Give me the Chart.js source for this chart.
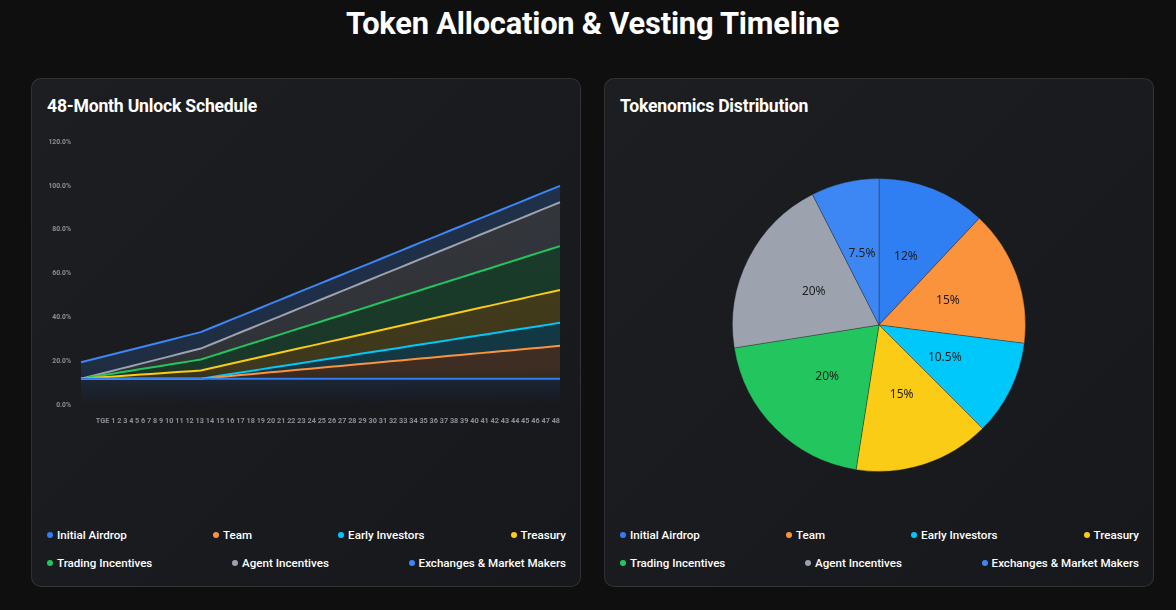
<!DOCTYPE html>
<html>
<head>
<meta charset="utf-8">
<script src="https://cdn.jsdelivr.net/npm/chart.js@4.4.1/dist/chart.umd.min.js"></script>
<style>
  html, body { margin:0; padding:0; background:#0f0f0f; width:1176px; height:610px; overflow:hidden; font-family: Roboto, 'Liberation Sans', sans-serif; }
  h1 { position:absolute; left:31px; width:1123px; top:6px; margin:0; text-align:center; color:#fff; font-size:30.8px; font-weight:700; line-height:36px; letter-spacing:-0.2px; }
  .card { position:absolute; top:78px; width:550px; height:509px; box-sizing:border-box; border:1px solid rgba(255,255,255,0.10); border-radius:10px; background:linear-gradient(135deg,#1c1e22 0%,#16181b 100%); }
  .card h2 { position:absolute; left:15px; top:16px; margin:0; color:#fff; font-size:17.6px; font-weight:700; line-height:22px; letter-spacing:-0.2px; }
  .chartbox { position:absolute; left:15px; top:51px; width:518px; }
  .legend { position:absolute; left:15px; top:442px; width:519px; display:flex; flex-wrap:wrap; justify-content:space-between; column-gap:40px; }
  .legend .item { display:flex; align-items:center; height:28px; color:#fff; font-size:11.6px; font-weight:500; white-space:nowrap; }
  .legend .dot { width:6px; height:6px; border-radius:50%; margin-right:4px; margin-left:0; }
</style>
</head>
<body>
<h1>Token Allocation &amp; Vesting Timeline</h1>
<div class="card" style="left:31px;">
  <h2>48-Month Unlock Schedule</h2>
  <div class="chartbox" style="height:296px;"><canvas id="lineChart"></canvas></div>
  <div class="legend" id="legend1"></div>
</div>
<div class="card" style="left:604px;">
  <h2>Tokenomics Distribution</h2>
  <div class="chartbox" style="height:390px;"><canvas id="pieChart"></canvas></div>
  <div class="legend" id="legend2"></div>
</div>
<script>
// ---- data ----
const months = ['TGE','1','2','3','4','5','6','7','8','9','10','11','12','13','14','15','16','17','18','19','20','21','22','23','24','25','26','27','28','29','30','31','32','33','34','35','36','37','38','39','40','41','42','43','44','45','46','47','48'];
const seriesNames = ['Initial Airdrop','Team','Early Investors','Treasury','Trading Incentives','Agent Incentives','Exchanges & Market Makers'];
const seriesColors = ['#2f7ff2','#fb923c','#00c8fa','#facc15','#22c55e','#9ca3af','#3d87f5'];
const allocation = [12, 15, 10.5, 15, 20, 20, 7.5];

const initialAirdrop = [12,12,12,12,12,12,12,12,12,12,12,12,12,12,12,12,12,12,12,12,12,12,12,12,12,12,12,12,12,12,12,12,12,12,12,12,12,12,12,12,12,12,12,12,12,12,12,12,12];
const team = [0,0,0,0,0,0,0,0,0,0,0,0,0,0.42,0.83,1.25,1.67,2.08,2.5,2.92,3.33,3.75,4.17,4.58,5,5.42,5.83,6.25,6.67,7.08,7.5,7.92,8.33,8.75,9.17,9.58,10,10.42,10.83,11.25,11.67,12.08,12.5,12.92,13.33,13.75,14.17,14.58,15];
const earlyInvestors = [0,0,0,0,0,0,0,0,0,0,0,0,0,0.29,0.58,0.88,1.17,1.46,1.75,2.04,2.33,2.63,2.92,3.21,3.5,3.79,4.08,4.38,4.67,4.96,5.25,5.54,5.83,6.13,6.42,6.71,7,7.29,7.58,7.88,8.17,8.46,8.75,9.04,9.33,9.63,9.92,10.21,10.5];
const treasury = [0,0.31,0.63,0.94,1.25,1.56,1.88,2.19,2.5,2.81,3.13,3.44,3.75,4.06,4.38,4.69,5,5.31,5.63,5.94,6.25,6.56,6.88,7.19,7.5,7.81,8.13,8.44,8.75,9.06,9.38,9.69,10,10.31,10.63,10.94,11.25,11.56,11.88,12.19,12.5,12.81,13.13,13.44,13.75,14.06,14.38,14.69,15];
const tradingIncentives = [0,0.42,0.83,1.25,1.67,2.08,2.5,2.92,3.33,3.75,4.17,4.58,5,5.42,5.83,6.25,6.67,7.08,7.5,7.92,8.33,8.75,9.17,9.58,10,10.42,10.83,11.25,11.67,12.08,12.5,12.92,13.33,13.75,14.17,14.58,15,15.42,15.83,16.25,16.67,17.08,17.5,17.92,18.33,18.75,19.17,19.58,20];
const agentIncentives = [0,0.42,0.83,1.25,1.67,2.08,2.5,2.92,3.33,3.75,4.17,4.58,5,5.42,5.83,6.25,6.67,7.08,7.5,7.92,8.33,8.75,9.17,9.58,10,10.42,10.83,11.25,11.67,12.08,12.5,12.92,13.33,13.75,14.17,14.58,15,15.42,15.83,16.25,16.67,17.08,17.5,17.92,18.33,18.75,19.17,19.58,20];
const exchanges = [7.5,7.5,7.5,7.5,7.5,7.5,7.5,7.5,7.5,7.5,7.5,7.5,7.5,7.5,7.5,7.5,7.5,7.5,7.5,7.5,7.5,7.5,7.5,7.5,7.5,7.5,7.5,7.5,7.5,7.5,7.5,7.5,7.5,7.5,7.5,7.5,7.5,7.5,7.5,7.5,7.5,7.5,7.5,7.5,7.5,7.5,7.5,7.5,7.5];
const yTicks = [0,20,40,60,80,100,120];

const seriesData = [initialAirdrop, team, earlyInvestors, treasury, tradingIncentives, agentIncentives, exchanges];

function hexA(hex, a) {
  const n = parseInt(hex.slice(1), 16);
  return 'rgba(' + ((n >> 16) & 255) + ',' + ((n >> 8) & 255) + ',' + (n & 255) + ',' + a + ')';
}
function gradientFor(color) {
  return function(ctx) {
    const ca = ctx.chart.chartArea;
    if (!ca) return hexA(color, 0.15);
    const g = ctx.chart.ctx.createLinearGradient(0, ca.top, 0, ca.bottom);
    g.addColorStop(0, hexA(color, 0.22));
    g.addColorStop(0.86, hexA(color, 0.17));
    g.addColorStop(1, hexA(color, 0));
    return g;
  };
}

// legends (HTML)
function buildLegend(id) {
  const el = document.getElementById(id);
  seriesNames.forEach((n, i) => {
    const it = document.createElement('div');
    it.className = 'item';
    it.innerHTML = '<span class="dot" style="background:' + seriesColors[i] + '"></span>' + n.replace('&', '&amp;');
    el.appendChild(it);
  });
}
buildLegend('legend1');
buildLegend('legend2');

// ---- line chart ----
new Chart(document.getElementById('lineChart'), {
  type: 'line',
  data: {
    labels: months,
    datasets: seriesNames.map((n, i) => ({
      label: n,
      data: seriesData[i],
      borderColor: seriesColors[i],
      backgroundColor: gradientFor(seriesColors[i]),
      borderWidth: 2,
      pointRadius: 0,
      tension: 0,
      fill: i === 0 ? 'origin' : '-1'
    }))
  },
  options: {
    responsive: true,
    maintainAspectRatio: false,
    animation: false,
    layout: { padding: { top: 12, right: 5 } },
    plugins: { legend: { display: false }, tooltip: { enabled: false } },
    scales: {
      x: {
        grid: { display: false, drawTicks: false },
        border: { display: false },
        ticks: { display: false },
        title: {
          display: true,
          text: '\u2002\u2002\u2002\u2002' + months.join(' '),
          color: '#8b9099',
          font: { family: 'Roboto', size: 7.5, weight: 'bold' },
          padding: { top: 12, bottom: 0 }
        }
      },
      y: {
        stacked: true,
        min: 0,
        max: 120,
        afterBuildTicks: (s) => { s.ticks = yTicks.map(v => ({ value: v })); },
        afterFit: (s) => { s.width = 34; },
        grid: { display: false },
        border: { display: false },
        ticks: {
          color: '#8b9099',
          padding: 2,
          font: { family: 'Roboto', size: 6.8, weight: 'bold' },
          callback: (v) => Number(v).toFixed(1) + '%'
        }
      }
    }
  }
});

// ---- pie chart ----
const pieLabelPlugin = {
  id: 'pieLabels',
  afterDatasetsDraw(chart) {
    const ctx = chart.ctx;
    const meta = chart.getDatasetMeta(0);
    ctx.save();
    ctx.font = '12px "Noto Sans", "Open Sans", sans-serif';
    ctx.fillStyle = '#1e1e1e';
    ctx.textAlign = 'center';
    ctx.textBaseline = 'middle';
    meta.data.forEach((arc, i) => {
      const p = arc.tooltipPosition();
      ctx.fillText(chart.data.datasets[0].data[i] + '%', p.x, p.y);
    });
    ctx.restore();
  }
};
new Chart(document.getElementById('pieChart'), {
  type: 'pie',
  data: {
    labels: seriesNames,
    datasets: [{
      data: allocation,
      backgroundColor: seriesColors,
      borderColor: 'rgba(30,32,36,0.35)',
      borderWidth: 1
    }]
  },
  options: {
    responsive: true,
    maintainAspectRatio: false,
    animation: false,
    layout: { padding: { top: 48, bottom: 48 } },
    plugins: { legend: { display: false }, tooltip: { enabled: false } }
  },
  plugins: [pieLabelPlugin]
});
</script>
</body>
</html>
